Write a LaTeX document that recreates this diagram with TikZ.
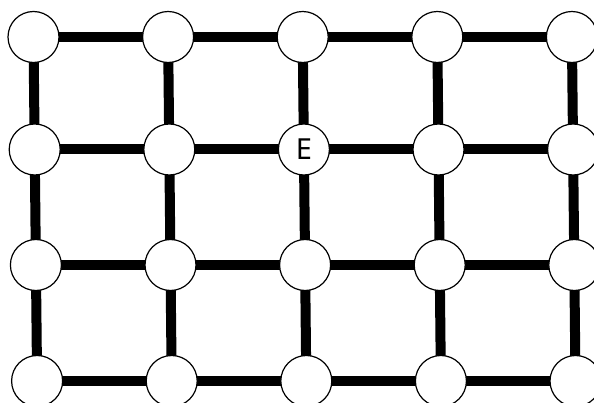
\documentclass[tikz,border=0pt]{standalone}
\usepackage{fontspec}
\setmainfont{Noto Sans}
\usetikzlibrary{backgrounds}

\tikzset{
  vertex/.style={circle, draw, line width=1.2pt, fill=white, minimum size=51pt, inner sep=0pt, font=\fontsize{29}{29}\selectfont},
  link/.style={line width=10pt},
}

\begin{document}
\begin{tikzpicture}[x=1pt, y=-1pt]
  \useasboundingbox (0,0) rectangle (594,403);
  \clip (0,0) rectangle (594,403);

  % vertices, row by row
  \foreach \r/\y in {1/37, 2/149.5, 3/265, 4/381} {
    \foreach \c in {1,...,5} {
      \node[vertex] (v\r\c) at ({33.5+134.6*(\c-1)+1.2*(\r-1)}, \y) {\ifnum\r\c=23 E\fi};
    }
  }

  % links behind the vertices
  \begin{scope}[on background layer]
    \foreach \r in {1,...,4}
      \foreach \c/\nc in {1/2, 2/3, 3/4, 4/5}
        \draw[link] (v\r\c.center) -- (v\r\nc.center);
    \foreach \r/\nr in {1/2, 2/3, 3/4}
      \foreach \c in {1,...,5}
        \draw[link] (v\r\c.center) -- (v\nr\c.center);
  \end{scope}
\end{tikzpicture}
\end{document}
